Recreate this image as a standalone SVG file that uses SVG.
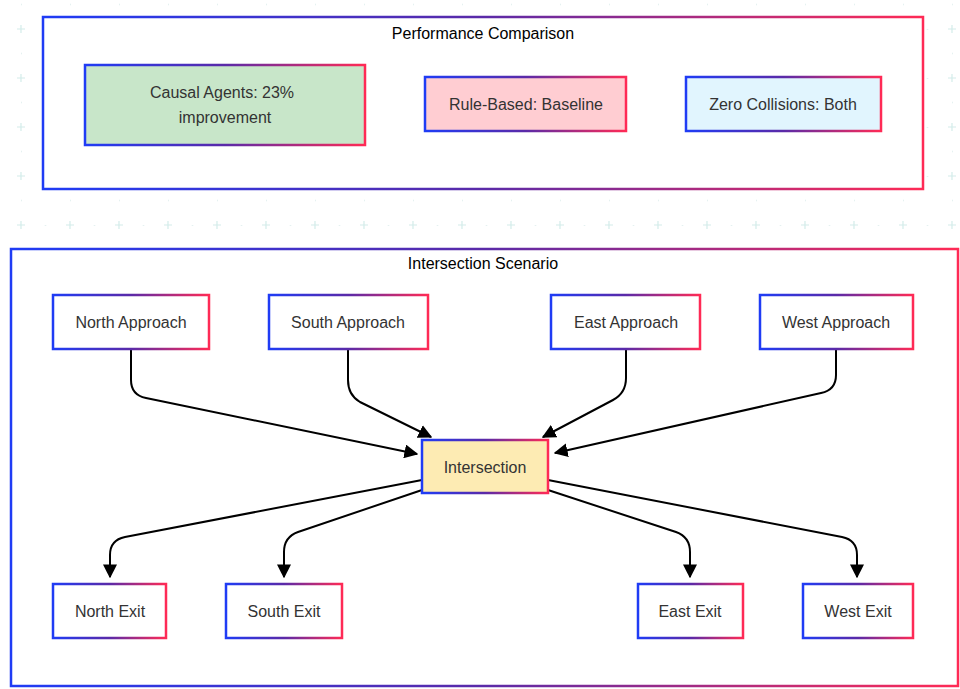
<svg xmlns="http://www.w3.org/2000/svg" width="960" height="689" viewBox="0 0 960 689">
<defs>
<linearGradient id="g" x1="0" y1="0" x2="1" y2="0"><stop offset="0" stop-color="#1f3cf5"/><stop offset="0.5" stop-color="#5a2aa8"/><stop offset="1" stop-color="#ff2a55"/></linearGradient>
<pattern id="bg" x="21" y="29" width="49" height="49" patternUnits="userSpaceOnUse">
<path d="M-4 0H4M0-4V4M45 0H53M49-4V4M-4 49H4M0 45V53M45 49H53M49 45V53" stroke="#d3ecea" stroke-width="1.2"/>
<circle cx="24.5" cy="0" r="1" fill="#e3f0ef"/><circle cx="0" cy="24.5" r="1" fill="#e3f0ef"/>
</pattern>
<marker id="a" viewBox="0 0 10 10" refX="9" refY="5" markerWidth="7" markerHeight="7" orient="auto-start-reverse"><path d="M0 0L10 5L0 10z" fill="#000"/></marker>
</defs>
<style>
.c{fill:#fff;stroke:url(#g);stroke-width:2.5}
.n{stroke:url(#g);stroke-width:2.5}
text{font-family:"Liberation Sans",Arial,sans-serif;font-size:16px;fill:#333;text-anchor:middle;dominant-baseline:central}
.t{fill:#000}
.e{fill:none;stroke:#000;stroke-width:2;marker-end:url(#a)}
</style>
<rect width="960" height="689" fill="#fff"/>
<rect width="960" height="689" fill="url(#bg)"/>
<g id="perf"><rect class="c" x="43" y="17" width="880" height="172"/><text class="t" x="483" y="33">Performance Comparison</text></g>
<g id="causal"><rect class="n" x="85" y="65" width="280" height="80" fill="#c8e6c9"/><text x="222" y="92">Causal Agents: 23%</text><text x="225" y="117">improvement</text></g>
<g id="rule"><rect class="n" x="425" y="77" width="201" height="54" fill="#ffcdd2"/><text x="526" y="104">Rule-Based: Baseline</text></g>
<g id="zero"><rect class="n" x="686" y="77" width="195" height="54" fill="#e1f5fe"/><text x="783" y="104">Zero Collisions: Both</text></g>
<g id="scenario"><rect class="c" x="11" y="249" width="947" height="437"/><text class="t" x="483" y="263">Intersection Scenario</text></g>
<g id="edges">
<path class="e" d="M131 349V380Q131 395 146 398L417 454"/>
<path class="e" d="M348 349V380Q348 395 360 402L431 437"/>
<path class="e" d="M626 349V378Q626 393 613 400L543 437"/>
<path class="e" d="M836 349V375Q836 390 821 393L555 453"/>
<path class="e" d="M422 480L125 537Q110 540 110 555V577"/>
<path class="e" d="M422 490L298 532Q284 537 284 552V577"/>
<path class="e" d="M548 490L676 532Q690 537 690 552V577"/>
<path class="e" d="M548 480L842 537Q857 540 857 555V577"/>
</g>
<g id="north"><rect class="c" x="53" y="295" width="156" height="54"/><text x="131" y="322">North Approach</text></g>
<g id="south"><rect class="c" x="269" y="295" width="159" height="54"/><text x="348" y="322">South Approach</text></g>
<g id="east"><rect class="c" x="551" y="295" width="149" height="54"/><text x="626" y="322">East Approach</text></g>
<g id="west"><rect class="c" x="760" y="295" width="153" height="54"/><text x="836" y="322">West Approach</text></g>
<g id="intersection"><rect class="n" x="422" y="440" width="126" height="53" fill="#fdebb3"/><text x="485" y="467">Intersection</text></g>
<g id="nexit"><rect class="c" x="53" y="584" width="113" height="54"/><text x="110" y="611">North Exit</text></g>
<g id="sexit"><rect class="c" x="226" y="584" width="116" height="54"/><text x="284" y="611">South Exit</text></g>
<g id="eexit"><rect class="c" x="638" y="584" width="105" height="54"/><text x="690" y="611">East Exit</text></g>
<g id="wexit"><rect class="c" x="803" y="584" width="110" height="54"/><text x="858" y="611">West Exit</text></g>
</svg>
